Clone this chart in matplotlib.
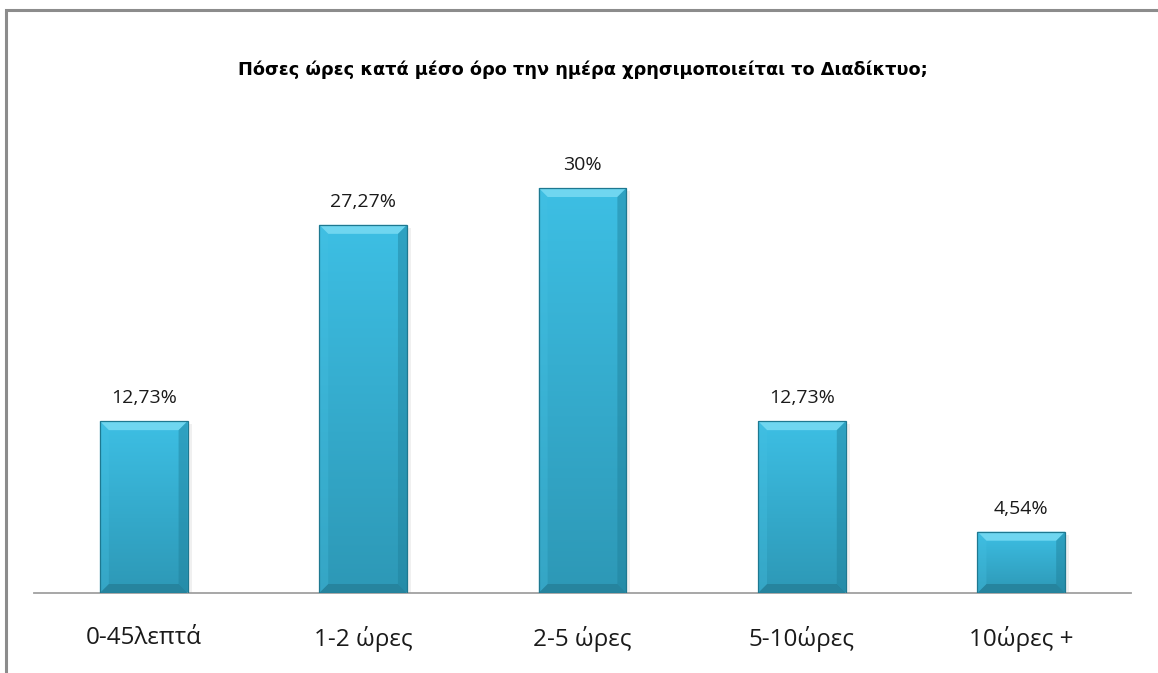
import matplotlib
matplotlib.use("Agg")
import matplotlib.pyplot as plt
import numpy as np
from matplotlib.patches import Polygon, Rectangle
from matplotlib.colors import LinearSegmentedColormap

categories = ["0-45λεπτά", "1-2 ώρες", "2-5 ώρες", "5-10ώρες", "10ώρες +"]
values = [12.73, 27.27, 30.0, 12.73, 4.54]
value_labels = ["12,73%", "27,27%", "30%", "12,73%", "4,54%"]
title = "Πόσες ώρες κατά μέσο όρο την ημέρα χρησιμοποιείται το Διαδίκτυο;"

plt.rcParams['font.family'] = ['Open Sans', 'DejaVu Sans']

W, H = 1158, 673
fig = plt.figure(figsize=(W / 100, H / 100), dpi=100)
fig.patch.set_facecolor("white")

# outer chart border (extends beyond right and bottom edges)
fig.add_artist(Rectangle((6 / W, -0.1), 1.2, 1 - 10 / H + 0.1, transform=fig.transFigure,
                         fill=False, edgecolor="#8c8c8c", linewidth=2.2))

ax_left, ax_right = 34 / W, 1131 / W
ax_bottom = (H - 593) / H
ax_top = (H - 130) / H
ax = fig.add_axes([ax_left, ax_bottom, ax_right - ax_left, ax_top - ax_bottom])
ax.set_xlim(-0.5, len(categories) - 0.5)
ymax = (593 - 130) / 13.5
ax.set_ylim(0, ymax)
for s in ["top", "right", "left"]:
    ax.spines[s].set_visible(False)
ax.spines["bottom"].set_color("#a0a0a0")
ax.spines["bottom"].set_linewidth(1.3)
ax.set_yticks([])
ax.tick_params(axis="x", length=0, pad=24, labelsize=17.5, colors="#1a1a1a")
ax.patch.set_alpha(0)

x = np.arange(len(categories))
bw = 0.4
bars = ax.bar(x, values, width=bw, color="#37b3d8", edgecolor="none", zorder=2)
ax.set_xticks(x)
ax.set_xticklabels(categories)

# pixel -> data scale
axw_px = (ax_right - ax_left) * W
axh_px = (ax_top - ax_bottom) * H
dx = len(categories) / axw_px
dy = ymax / axh_px

grad = np.linspace(0, 1, 256).reshape(-1, 1)
cmap = LinearSegmentedColormap.from_list("face", ["#2d98b6", "#3dbfe4"])

for b in bars:
    x0, y0 = b.get_x(), b.get_y()
    w, h = b.get_width(), b.get_height()
    x1, y1 = x0 + w, y0 + h
    # soft shadow on the right
    ax.add_patch(Rectangle((x1, y0), 4 * dx, h - 3 * dy, color="#000000", alpha=0.06, zorder=1, lw=0))
    im = ax.imshow(grad, extent=(x0, x1, y0, y1), origin="lower", cmap=cmap,
                   aspect="auto", zorder=2.5, interpolation="bilinear")
    im.set_clip_path(b)
    bx, by = 9 * dx, 9 * dy
    by = min(by, h / 2)
    ax.add_patch(Polygon([(x0, y1), (x1, y1), (x1 - bx, y1 - by), (x0 + bx, y1 - by)],
                         closed=True, color="#6fd6f0", lw=0, zorder=3))
    ax.add_patch(Polygon([(x0, y0), (x1, y0), (x1 - bx, y0 + by), (x0 + bx, y0 + by)],
                         closed=True, color="#26849e", lw=0, zorder=3))
    ax.add_patch(Polygon([(x0, y0), (x0, y1), (x0 + bx, y1 - by), (x0 + bx, y0 + by)],
                         closed=True, color="#45c0e2", alpha=0.35, lw=0, zorder=3))
    ax.add_patch(Polygon([(x1, y0), (x1, y1), (x1 - bx, y1 - by), (x1 - bx, y0 + by)],
                         closed=True, color="#1f7f99", alpha=0.45, lw=0, zorder=3))
    ax.add_patch(Rectangle((x0, y0), w, h, fill=False, edgecolor="#1e7890", lw=0.9, zorder=4))

for xi, v, lab in zip(x, values, value_labels):
    ax.annotate(lab, (xi, v), xytext=(0, 16.5), textcoords="offset points",
                ha="center", va="center", fontsize=14, color="#1a1a1a")

fig.text(583 / W, 1 - 75 / H, title, ha="center", va="baseline", fontsize=12.8,
         color="#000000", fontweight="bold", family="DejaVu Sans")

fig.savefig("out.png", dpi=100, facecolor="white")
